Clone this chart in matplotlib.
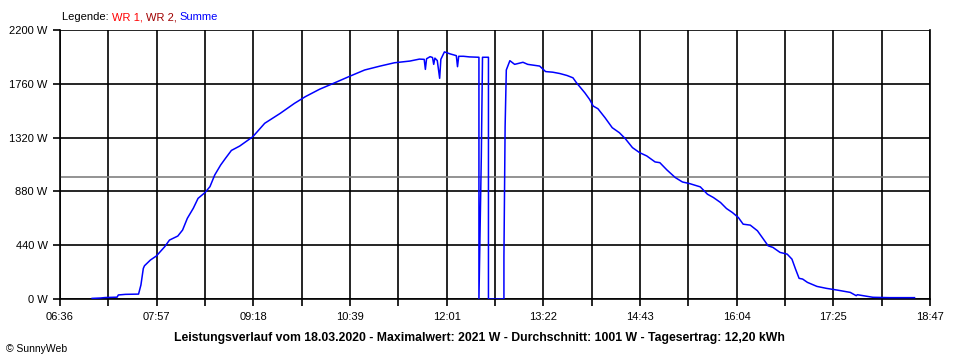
#
# sunnyweb_day.py
#   - Daily power curve of the PV inverters (SunnyWeb style).
#

import numpy as np
import matplotlib
matplotlib.use("Agg")
import matplotlib.pyplot as plt

# Summe (W) over the day
times = [
    "07:03", "07:10", "07:14", "07:24", "07:25", "07:31", "07:42", "07:44", "07:46", "07:47",
    "07:52", "07:57", "08:04", "08:08", "08:15", "08:19", "08:23", "08:28", "08:32", "08:38",
    "08:42", "08:46", "08:51", "08:55", "09:00", "09:07", "09:18", "09:28", "09:41", "09:53",
    "10:02", "10:14", "10:27", "10:40", "10:52", "11:05", "11:17", "11:30", "11:38", "11:42",
    "11:43", "11:44", "11:47", "11:49", "11:50", "11:51", "11:53", "11:55", "11:56", "11:59",
    "12:04", "12:08", "12:09", "12:10", "12:11", "12:15", "12:20", "12:28", "12:28", "12:30",
    "12:31", "12:36", "12:36", "12:49", "12:49", "12:50", "12:51", "12:54", "12:58", "13:05",
    "13:09", "13:19", "13:24", "13:30", "13:36", "13:42", "13:47", "13:50", "13:53", "13:57",
    "14:01", "14:04", "14:08", "14:14", "14:20", "14:26", "14:31", "14:37", "14:43", "14:49",
    "14:56", "15:00", "15:06", "15:13", "15:19", "15:25", "15:34", "15:40", "15:45", "15:51",
    "15:56", "16:01", "16:06", "16:10", "16:16", "16:22", "16:27", "16:31", "16:35", "16:41",
    "16:47", "16:51", "16:54", "16:57", "17:00", "17:04", "17:12", "17:20", "17:29", "17:40",
    "17:45", "17:46", "17:59", "18:13", "18:28", "18:34",
]
summe = [
    5, 8, 12, 15, 33, 38, 40, 115, 250, 272,
    319, 352, 428, 482, 515, 564, 660, 742, 823, 872,
    919, 1014, 1096, 1150, 1215, 1251, 1327, 1437, 1518, 1600,
    1654, 1715, 1769, 1824, 1873, 1905, 1932, 1946, 1962, 1960,
    1878, 1965, 1982, 1975, 1919, 1970, 1950, 1805, 1960, 2021,
    2004, 1993, 1990, 1900, 1985, 1985, 1980, 1977, 0, 1164,
    1977, 1977, 0, 0, 346, 1409, 1873, 1949, 1919, 1936,
    1919, 1905, 1860, 1855, 1844, 1828, 1809, 1768, 1733, 1686,
    1632, 1578, 1556, 1482, 1401, 1360, 1311, 1238, 1197, 1170,
    1121, 1115, 1055, 993, 957, 944, 917, 857, 830, 789,
    740, 707, 666, 612, 604, 558, 490, 435, 422, 381,
    367, 326, 245, 169, 163, 136, 103, 87, 73, 54,
    27, 35, 14, 11, 11, 11,
]
durchschnitt = 1001

x_labels = ["06:36", "07:57", "09:18", "10:39", "12:01", "13:22", "14:43", "16:04", "17:25", "18:47"]
y_ticks = [0, 440, 880, 1320, 1760, 2200]

legend_parts = ["Legende: ", "WR 1, ", "WR 2, ", "Summe"]
legend_colors = ["black", "#ff0000", "#a00000", "#0000ff"]

title = ("Leistungsverlauf vom 18.03.2020 - Maximalwert: 2021 W - "
         "Durchschnitt: 1001 W - Tagesertrag: 12,20 kWh")


def to_min(t):
    h, m = t.split(":")
    return int(h) * 60 + int(m)


def main():
    plt.rcParams['font.family'] = ['Liberation Sans', 'DejaVu Sans']

    x = np.array([to_min(t) for t in times])
    t0, t1 = to_min(x_labels[0]), to_min(x_labels[-1])

    fig = plt.figure(figsize=(9.6, 3.6), dpi=100)
    ax = fig.add_axes([60 / 960, 61 / 360, 870 / 960, 269 / 360])

    # grid: one minor line between every labelled time
    xt = np.linspace(t0, t1, 19)
    for v in xt:
        ax.axvline(v, color='black', lw=1.2, zorder=1)
    for v in y_ticks:
        ax.axhline(v, color='black', lw=1.2, zorder=1)
    ax.axhline(durchschnitt, color='#808080', lw=1.2, zorder=2)

    ax.plot(x, summe, color='#0000ff', lw=1.1, zorder=3)

    ax.set_xlim(t0, t1)
    ax.set_ylim(0, 2200)
    ax.set_xticks(xt)
    tick_text = []
    for lab in x_labels:
        tick_text += [lab, ""]
    ax.set_xticklabels(tick_text[:19], fontsize=8)
    ax.set_yticks(y_ticks)
    ax.set_yticklabels(["{} W".format(v) for v in y_ticks], fontsize=8)
    ax.tick_params(axis='both', length=5, width=1.2, color='black', pad=4)
    for s in ax.spines.values():
        s.set_linewidth(1.2)
    ax.spines['top'].set_visible(False)

    # legend line at the top, pieces placed one after the other
    renderer = fig.canvas.get_renderer()
    xpos = 62
    for part, col in zip(legend_parts, legend_colors):
        t = fig.text(xpos / 960, 1 - 17 / 360, part, fontsize=8, color=col, va='center')
        xpos += t.get_window_extent(renderer).width

    fig.text(479 / 960, 1 - 338 / 360, title, fontsize=8.8, fontweight='bold',
             ha='center', va='center')
    fig.text(6 / 960, 1 - 349 / 360, "\u00a9 SunnyWeb", fontsize=7.5, va='center')

    plt.savefig("out.png", dpi=100)


if __name__ == "__main__":
    main()
